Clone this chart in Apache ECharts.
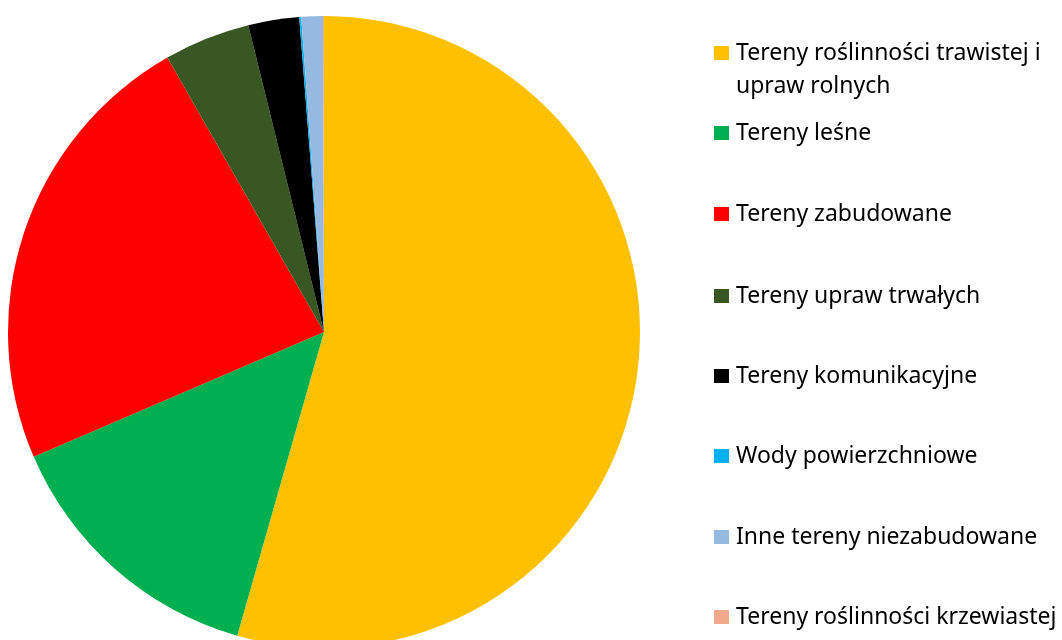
<!DOCTYPE html>
<html><head><meta charset="utf-8">
<script src="https://cdn.jsdelivr.net/npm/echarts@6/dist/echarts.min.js"></script>
<style>html,body{margin:0;padding:0;background:#fff}#c{width:1062px;height:640px}</style>
</head><body><div id="c"></div>
<script>
const categories = [
  'Tereny roślinności trawistej i upraw rolnych',
  'Tereny leśne',
  'Tereny zabudowane',
  'Tereny upraw trwałych',
  'Tereny komunikacyjne',
  'Wody powierzchniowe',
  'Inne tereny niezabudowane',
  'Tereny roślinności krzewiastej'
];
const values = [54.4, 14.1, 23.2, 4.4, 2.6, 0.1, 1.1, 0.05];
const colors = ['#FFC000', '#00B050', '#FF0000', '#385723', '#000000', '#00B0F0', '#95B9E0', '#F1A98B'];

const LH = 33;
const legendCenters = [53, 133, 214, 296, 376, 456, 537, 617];
const legends = categories.map((name, i) => ({
  data: [name],
  orient: 'vertical',
  left: 714,
  top: i === 0 ? legendCenters[i] - 1.5 * LH : legendCenters[i] - LH / 2,
  itemWidth: 15,
  itemHeight: 14,
  icon: 'rect',
  selectedMode: false,
  padding: 0,
  formatter: n => i === 0 ? '\nTereny roślinności trawistej i\nupraw rolnych' : n,
  textStyle: { fontFamily: 'Noto Sans', fontSize: 23, color: '#000', lineHeight: LH, padding: [0, 0, 0, 2] }
}));

const chart = echarts.init(document.getElementById('c'));
chart.setOption({
  animation: false,
  color: colors,
  legend: legends,
  series: [{
    type: 'pie',
    center: [324, 332],
    radius: [0, 316],
    startAngle: 90,
    clockwise: true,
    label: { show: false },
    labelLine: { show: false },
    emphasis: { disabled: true },
    itemStyle: { borderWidth: 0 },
    data: categories.map((n, i) => ({ name: n, value: values[i] }))
  }]
});
</script></body></html>
